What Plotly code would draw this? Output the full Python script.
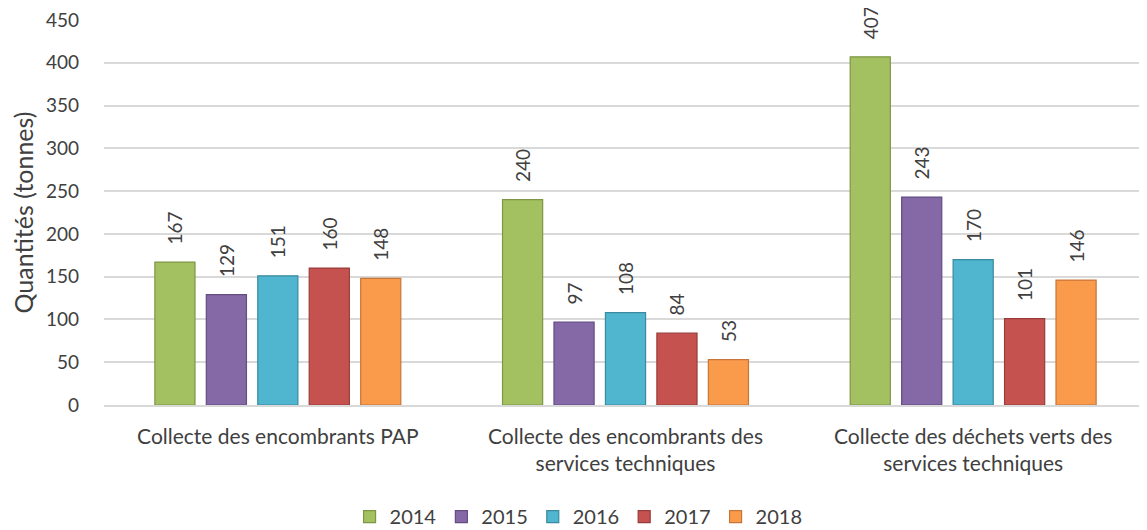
import plotly.graph_objects as go

categories = ["Collecte des encombrants PAP",
              "Collecte des encombrants des<br>services techniques",
              "Collecte des déchets verts des<br>services techniques"]
years = ["2014", "2015", "2016", "2017", "2018"]
values = {
    "2014": [167, 240, 407],
    "2015": [129, 97, 243],
    "2016": [151, 108, 170],
    "2017": [160, 84, 101],
    "2018": [148, 53, 146],
}
colors = ["#A3C160", "#8569A6", "#50B5CF", "#C65250", "#F99B4A"]
edges = ["#7E9646", "#634D83", "#3A8BA0", "#973C3A", "#C7763A"]

PAD = "\u00a0\u00a0\u00a0"

fig = go.Figure()
for y, c, e in zip(years, colors, edges):
    fig.add_trace(go.Bar(
        x=categories, y=values[y], name=y,
        marker=dict(color=c, line=dict(color=e, width=1.2)),
        text=[PAD + str(v) for v in values[y]], textposition="outside",
        textangle=-90, cliponaxis=False, constraintext="none",
        textfont=dict(size=19, color="#404040"),
    ))

fig.update_layout(
    width=1139, height=522,
    paper_bgcolor="white", plot_bgcolor="white",
    font=dict(family="Lato, Open Sans, sans-serif", color="#404040", size=18),
    margin=dict(l=96, r=0, t=12, b=125, autoexpand=False),
    barmode="group", bargap=0.26, bargroupgap=0.22,
    legend=dict(orientation="h", x=0.455, xanchor="center", y=-0.29, yanchor="middle",
                font=dict(size=20), traceorder="normal", itemwidth=30),
    yaxis=dict(range=[0, 450], dtick=50, showgrid=True, gridcolor="#D9D9D9",
               gridwidth=1.5, zeroline=False, showline=False, ticks="",
               tickfont=dict(size=19), automargin=False, ticklabelstandoff=24,
               ticklabeloverflow="allow",
               title=dict(text="Quantités (tonnes)", font=dict(size=25), standoff=10)),
    xaxis=dict(showline=True, linecolor="#D9D9D9", linewidth=1.5, ticks="",
               tickfont=dict(size=21), automargin=False, ticklabelstandoff=12),
)
fig.write_html("out.html")
